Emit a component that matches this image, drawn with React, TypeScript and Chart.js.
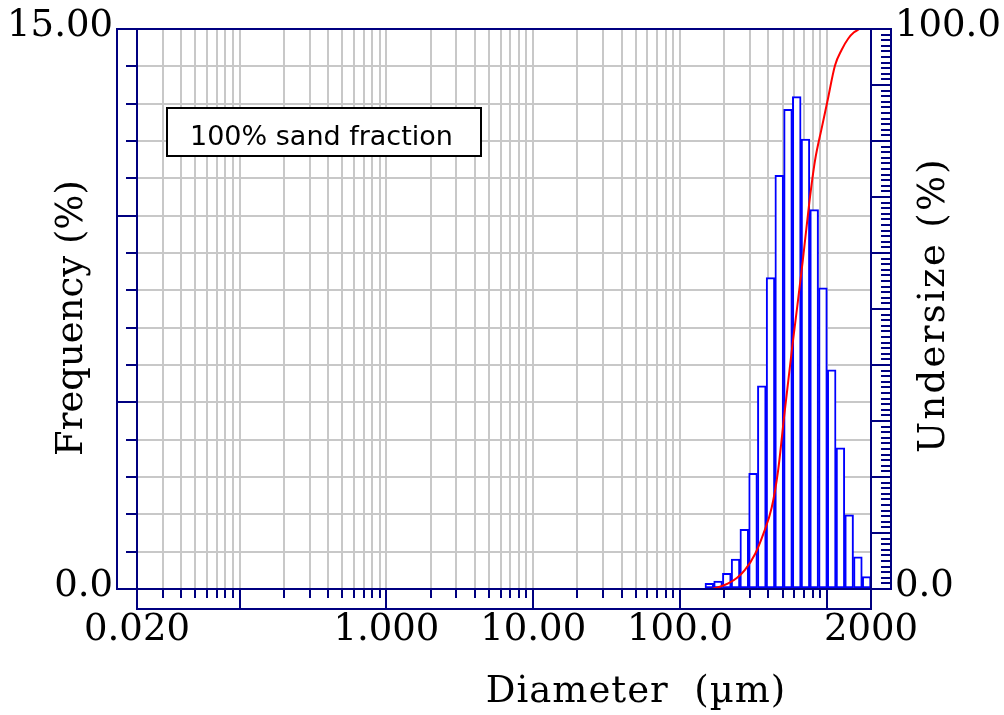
import React, { useEffect, useRef } from 'react';
import { Chart, registerables } from 'chart.js';

Chart.register(...registerables);

// ---------- data ----------
// histogram channels (centre diameter, µm) and frequency (%)
const BIN_CENTERS_UM = [158.4, 181.6, 208.3, 238.9, 274.1, 314.4, 360.6, 413.5, 474.3, 543.9, 623.9, 715.5, 820.6, 941.2, 1079.5, 1238.1, 1420.0, 1628.6, 1867.9];
const FREQUENCY_PCT = [0.15, 0.21, 0.42, 0.80, 1.60, 3.10, 5.44, 8.34, 11.08, 12.85, 13.19, 12.05, 10.16, 8.07, 5.87, 3.78, 1.99, 0.86, 0.33];

// cumulative undersize curve
const UNDERSIZE_DIAM_UM = [164, 187, 213, 245, 277, 324, 369, 421, 465, 513, 577, 626, 685, 760, 831, 923, 1008, 1137, 1263, 1401, 1532, 1665];
const UNDERSIZE_PCT = [0, 0.4, 1.0, 2.0, 3.4, 6.2, 9.8, 14.5, 21.0, 31.0, 42.5, 50.0, 58.5, 69.0, 76.5, 82.3, 87.0, 93.5, 96.3, 98.3, 99.4, 100.0];

// axes
const X_MIN = 0.02;
const X_MAX = 2000;
const X_LABEL_VALUES = [0.02, 1, 10, 100, 2000];
const X_LABEL_TEXT = ['0.020', '1.000', '10.00', '100.0', '2000'];
const Y_LEFT_MIN = 0;
const Y_LEFT_MAX = 15;
const Y_LEFT_LABEL_VALUES = [0, 15];
const Y_LEFT_LABEL_TEXT = ['0.0', '15.00'];
const Y_RIGHT_MIN = 0;
const Y_RIGHT_MAX = 100;
const Y_RIGHT_LABEL_VALUES = [0, 100];
const Y_RIGHT_LABEL_TEXT = ['0.0', '100.0'];

const X_TITLE = 'Diameter  (µm)';
const Y_LEFT_TITLE = 'Frequency (%)';
const Y_RIGHT_TITLE = 'Undersize (%)';
const NOTE_TEXT = '100% sand fraction';

// ---------- styling ----------
const W = 1004;
const H = 715;
const NAVY = '#000080';
const GRID = '#c8c8c8';
const SERIF = "'DejaVu Serif', serif";
const SANS = "'DejaVu Sans', Verdana, sans-serif";
const FONT_SIZE = 37;
const BAND = 20;

// log grid positions 1..9 x 10^k inside the range
const X_TICKS: number[] = (() => {
  const out: number[] = [];
  for (let e = -2; e <= 3; e++) {
    for (let s = 1; s <= 9; s++) {
      const v = Number((s * Math.pow(10, e)).toPrecision(3));
      if (v >= X_MIN && v <= X_MAX) out.push(v);
    }
  }
  if (out[out.length - 1] !== X_MAX) out.push(X_MAX);
  return out;
})();

const near = (a: number, b: number) => Math.abs(a - b) <= Math.abs(b) * 1e-6 + 1e-12;
const labelFor = (vals: number[], texts: string[], v: number) => {
  for (let i = 0; i < vals.length; i++) if (near(v, vals[i])) return texts[i];
  return '';
};
const isDecade = (v: number) => {
  const l = Math.log10(v);
  return Math.abs(l - Math.round(l)) < 1e-9;
};

const framePlugin = {
  id: 'psdFrame',
  afterDraw(chart: any) {
    const { ctx, chartArea, scales } = chart;
    const L = Math.round(chartArea.left);
    const R = Math.round(chartArea.right);
    const T = Math.round(chartArea.top);
    const B = Math.round(chartArea.bottom);
    const seg = (x1: number, y1: number, x2: number, y2: number) => {
      ctx.beginPath();
      ctx.moveTo(x1, y1);
      ctx.lineTo(x2, y2);
      ctx.stroke();
    };
    ctx.save();
    ctx.strokeStyle = NAVY;
    ctx.lineWidth = 2;
    ctx.lineCap = 'square';
    // frame lines
    seg(L - BAND, T, R + BAND, T);
    seg(L - BAND, T, L - BAND, B);
    seg(L, T, L, B + BAND);
    seg(L, B, R, B);
    seg(L, B + BAND, R, B + BAND);
    seg(R, T, R, B + BAND);
    seg(R + BAND, T, R + BAND, B);
    ctx.lineCap = 'butt';
    // left ticks
    scales.y.ticks.forEach((t: any) => {
      const py = Math.round(scales.y.getPixelForValue(t.value));
      const major = Math.round(t.value) % 5 === 0;
      seg(major ? L - BAND : L - 11, py, L, py);
    });
    // right ticks
    scales.y2.ticks.forEach((t: any) => {
      const py = Math.round(scales.y2.getPixelForValue(t.value));
      const major = Math.round(t.value) % 10 === 0;
      seg(major ? R : R + BAND - 10, py, R + BAND, py);
    });
    // bottom ticks
    scales.x.ticks.forEach((t: any) => {
      const px = Math.round(scales.x.getPixelForValue(t.value));
      const major = isDecade(t.value) || near(t.value, X_MAX) || near(t.value, X_MIN);
      seg(px, B, px, major ? B + BAND : B + 9);
    });

    // annotation box
    ctx.fillStyle = '#ffffff';
    ctx.fillRect(167, 108, 314, 48);
    ctx.strokeStyle = '#000000';
    ctx.lineWidth = 2;
    ctx.strokeRect(167, 108, 314, 48);
    ctx.fillStyle = '#000000';
    ctx.font = `27px ${SANS}`;
    ctx.textAlign = 'left';
    ctx.textBaseline = 'alphabetic';
    ctx.fillText(NOTE_TEXT, 190, 145);

    // axis titles
    ctx.font = `${FONT_SIZE}px ${SERIF}`;
    ctx.fillStyle = '#000000';
    ctx.textAlign = 'center';
    ctx.textBaseline = 'middle';
    ctx.letterSpacing = '1px';
    ctx.fillText(X_TITLE, 636, 692);
    ctx.letterSpacing = '0px';

    ctx.save();
    ctx.translate(72, 318);
    ctx.rotate(-Math.PI / 2);
    ctx.fillText(Y_LEFT_TITLE, 0, 0);
    ctx.restore();

    ctx.save();
    ctx.translate(934, 305);
    ctx.rotate(-Math.PI / 2);
    ctx.letterSpacing = '2.3px';
    ctx.fillText(Y_RIGHT_TITLE, 0, 0);
    ctx.letterSpacing = '0px';
    ctx.restore();

    ctx.restore();
  },
};

export default function App() {
  const ref = useRef<HTMLCanvasElement>(null);

  useEffect(() => {
    const canvas = ref.current;
    if (!canvas) return;

    const tickFont = { family: SERIF, size: FONT_SIZE };
    const noVPad = (scale: any) => {
      scale.paddingTop = 0;
      scale.paddingBottom = 0;
    };

    const chart = new Chart(canvas, {
      type: 'bar',
      data: {
        datasets: [
          {
            type: 'line',
            label: Y_RIGHT_TITLE,
            data: UNDERSIZE_DIAM_UM.map((d, i) => ({ x: d, y: UNDERSIZE_PCT[i] })),
            yAxisID: 'y2',
            borderColor: '#ff0000',
            borderWidth: 2,
            pointRadius: 0,
            fill: false,
            cubicInterpolationMode: 'monotone',
            order: 0,
          } as any,
          {
            type: 'bar',
            label: Y_LEFT_TITLE,
            data: BIN_CENTERS_UM.map((d, i) => ({ x: d, y: FREQUENCY_PCT[i] })),
            yAxisID: 'y',
            backgroundColor: '#ffffff',
            borderColor: '#0000ff',
            borderWidth: 2,
            borderSkipped: false,
            barThickness: 'flex',
            barPercentage: 1,
            categoryPercentage: 1,
            order: 1,
          } as any,
        ],
      },
      options: {
        responsive: false,
        animation: false,
        devicePixelRatio: 1,
        layout: { padding: { top: 29, left: 0, right: 0, bottom: 0 } },
        plugins: { legend: { display: false }, tooltip: { enabled: false } },
        scales: {
          x: {
            type: 'logarithmic',
            position: 'bottom',
            min: X_MIN,
            max: X_MAX,
            offset: false,
            afterBuildTicks: (scale: any) => {
              scale.ticks = X_TICKS.map((v) => ({ value: v }));
            },
            afterFit: (scale: any) => {
              scale.height = H - 589;
              scale.paddingLeft = 0;
              scale.paddingRight = 0;
            },
            grid: { color: GRID, lineWidth: 2, drawTicks: false, offset: false },
            border: { display: false },
            ticks: {
              autoSkip: false,
              maxRotation: 0,
              minRotation: 0,
              padding: 19,
              color: '#000000',
              font: tickFont,
              callback: (v: any) => labelFor(X_LABEL_VALUES, X_LABEL_TEXT, Number(v)),
            },
          },
          y: {
            type: 'linear',
            position: 'left',
            min: Y_LEFT_MIN,
            max: Y_LEFT_MAX,
            afterFit: (scale: any) => {
              scale.width = 137;
              noVPad(scale);
            },
            grid: { color: GRID, lineWidth: 2, drawTicks: false },
            border: { display: false },
            ticks: {
              stepSize: 1,
              autoSkip: false,
              padding: 24,
              labelOffset: -3,
              color: '#000000',
              font: tickFont,
              callback: (v: any) => labelFor(Y_LEFT_LABEL_VALUES, Y_LEFT_LABEL_TEXT, Number(v)),
            },
          },
          y2: {
            type: 'linear',
            position: 'right',
            min: Y_RIGHT_MIN,
            max: Y_RIGHT_MAX,
            afterFit: (scale: any) => {
              scale.width = W - 871;
              noVPad(scale);
            },
            grid: { display: false, drawTicks: false, drawOnChartArea: false },
            border: { display: false },
            ticks: {
              stepSize: 1,
              autoSkip: false,
              padding: 24,
              labelOffset: -3,
              color: '#000000',
              font: tickFont,
              callback: (v: any) => labelFor(Y_RIGHT_LABEL_VALUES, Y_RIGHT_LABEL_TEXT, Number(v)),
            },
          },
        },
      } as any,
      plugins: [framePlugin],
    });

    return () => chart.destroy();
  }, []);

  return (
    <div style={{ position: 'absolute', left: 0, top: 0, width: W, height: H, background: '#ffffff' }}>
      <canvas ref={ref} width={W} height={H} style={{ display: 'block', width: W, height: H }} />
    </div>
  );
}
